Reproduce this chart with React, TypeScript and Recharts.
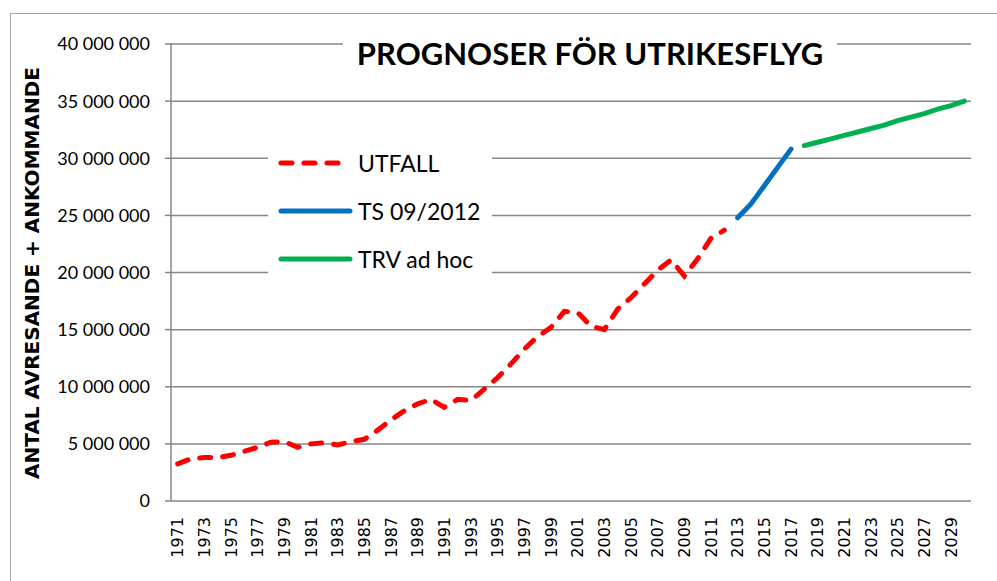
import { LineChart, Line, XAxis, YAxis, CartesianGrid, Legend } from 'recharts';

const years = [
  1971, 1972, 1973, 1974, 1975, 1976, 1977, 1978, 1979, 1980,
  1981, 1982, 1983, 1984, 1985, 1986, 1987, 1988, 1989, 1990,
  1991, 1992, 1993, 1994, 1995, 1996, 1997, 1998, 1999, 2000,
  2001, 2002, 2003, 2004, 2005, 2006, 2007, 2008, 2009, 2010,
  2011, 2012, 2013, 2014, 2015, 2016, 2017, 2018, 2019, 2020,
  2021, 2022, 2023, 2024, 2025, 2026, 2027, 2028, 2029, 2030,
];

// 1971-2012
const utfall = [
  3250000, 3700000, 3800000, 3800000, 4000000, 4350000, 4700000, 5150000, 5200000, 4700000,
  5000000, 5100000, 4900000, 5200000, 5400000, 6200000, 7100000, 7900000, 8500000, 8900000,
  8200000, 8900000, 8800000, 9800000, 10800000, 12000000, 13300000, 14400000, 15200000, 16600000,
  16500000, 15300000, 15000000, 16800000, 17800000, 19000000, 20200000, 21100000, 19700000, 21200000,
  23000000, 23700000,
];

// 2013-2017
const ts2012 = [24800000, 26000000, 27600000, 29200000, 30800000];

// 2018-2030
const trvAdHoc = [
  31100000, 31400000, 31700000, 32000000, 32300000, 32600000, 32900000,
  33300000, 33600000, 33900000, 34300000, 34600000, 35000000,
];

const seriesNames = ['UTFALL', 'TS 09/2012', 'TRV ad hoc'];

const yTicks = [0, 5000000, 10000000, 15000000, 20000000, 25000000, 30000000, 35000000, 40000000];
const xLabelYears = [
  1971, 1973, 1975, 1977, 1979, 1981, 1983, 1985, 1987, 1989,
  1991, 1993, 1995, 1997, 1999, 2001, 2003, 2005, 2007, 2009,
  2011, 2013, 2015, 2017, 2019, 2021, 2023, 2025, 2027, 2029,
];

const tsStart = 2013;
const trvStart = 2018;

const data = years.map((year, i) => ({
  year,
  utfall: i < utfall.length ? utfall[i] : null,
  ts: year >= tsStart && year - tsStart < ts2012.length ? ts2012[year - tsStart] : null,
  trv: year >= trvStart ? trvAdHoc[year - trvStart] : null,
}));

// category boundaries for the small tick marks under the axis
const boundaries = years.map((y) => y - 0.5).concat([years[years.length - 1] + 0.5]);
const xDomain = [boundaries[0], boundaries[boundaries.length - 1]];

const fmt = (v: number) => String(v).replace(/\B(?=(\d{3})+(?!\d))/g, ' ');

const gridColor = '#868686';

const YearTick = (props: any) => {
  const { x, y, payload } = props;
  return (
    <text
      x={x}
      y={y}
      transform={`rotate(-90, ${x}, ${y})`}
      textAnchor="end"
      dominantBaseline="central"
      fontFamily="DejaVu Sans"
      fontSize={16}
      style={{ fontFamily: '"DejaVu Sans", sans-serif', fontSize: '16px' }}
      fill="#000"
    >
      {payload.value}
    </text>
  );
};

const LegendBox = (props: any) => {
  const items = [...(props.payload || [])].sort(
    (a: any, b: any) => seriesNames.indexOf(a.value) - seriesNames.indexOf(b.value)
  );
  return (
    <div style={{ background: '#fff', width: 224, height: 146, position: 'relative' }}>
      {items.map((item: any, i: number) => (
        <div
          key={item.value}
          style={{ position: 'absolute', left: 8, top: 14 + i * 48, height: 24, display: 'flex', alignItems: 'center' }}
        >
          <svg width={78} height={10}>
            <line
              x1={5}
              y1={5}
              x2={item.payload.strokeDasharray ? 66 : 74}
              y2={5}
              stroke={item.color}
              strokeWidth={5}
              strokeLinecap="round"
              strokeDasharray={item.payload.strokeDasharray}
            />
          </svg>
          <span style={{ marginLeft: 4, fontSize: 23, fontFamily: 'Lato', color: '#000', lineHeight: '24px' }}>
            {item.value}
          </span>
        </div>
      ))}
    </div>
  );
};

export default function App() {
  return (
    <div
      style={{
        position: 'fixed',
        left: 0,
        top: 0,
        width: 997,
        height: 581,
        overflow: 'hidden',
        background: '#fff',
        fontFamily: 'Lato',
      }}
    >
      <div
        style={{
          position: 'absolute',
          left: 10,
          top: 13,
          width: 1020,
          height: 620,
          border: '1.5px solid #a6a6a6',
        }}
      />
      <div style={{ position: 'absolute', left: 0, top: 0 }}>
        <LineChart width={997} height={581} data={data} margin={{ top: 44, right: 26, bottom: 20, left: 0 }}>
          <CartesianGrid vertical={false} stroke={gridColor} strokeWidth={1.5} />
          <XAxis
            xAxisId={0}
            type="number"
            dataKey="year"
            domain={xDomain}
            allowDataOverflow
            ticks={boundaries}
            interval={0}
            tick={false}
            tickSize={7}
            height={0}
            stroke={gridColor}
            strokeWidth={1.5}
          />
          <XAxis
            xAxisId="lab"
            type="number"
            dataKey="year"
            domain={xDomain}
            allowDataOverflow
            ticks={xLabelYears}
            interval={0}
            tick={<YearTick />}
            tickLine={false}
            axisLine={false}
            tickSize={0}
            tickMargin={16}
            height={60}
          />
          <YAxis
            width={171}
            domain={[0, 40000000]}
            ticks={yTicks}
            interval={0}
            tickFormatter={fmt}
            tick={{ fill: '#000', fontSize: 18, fontFamily: 'Lato' }}
            tickSize={6}
            tickMargin={15}
            stroke={gridColor}
            strokeWidth={1.5}
          />
          <Legend
            layout="vertical"
            align="center"
            verticalAlign="middle"
            content={<LegendBox />}
            wrapperStyle={{ left: 268, top: 137, width: 224, height: 146 }}
          />
          <Line
            xAxisId="lab"
            type="linear"
            dataKey="utfall"
            name="UTFALL"
            stroke="#ff0000"
            strokeWidth={5}
            strokeDasharray="11 12"
            strokeLinecap="round"
            dot={false}
            activeDot={false}
            isAnimationActive={false}
          />
          <Line
            xAxisId="lab"
            type="linear"
            dataKey="ts"
            name="TS 09/2012"
            stroke="#0070c0"
            strokeWidth={5}
            strokeLinecap="round"
            dot={false}
            activeDot={false}
            isAnimationActive={false}
          />
          <Line
            xAxisId="lab"
            type="linear"
            dataKey="trv"
            name="TRV ad hoc"
            stroke="#00b050"
            strokeWidth={5}
            strokeLinecap="round"
            dot={false}
            activeDot={false}
            isAnimationActive={false}
          />
        </LineChart>
      </div>
      <div
        style={{
          position: 'absolute',
          left: 343,
          top: 28,
          width: 494,
          height: 50,
          background: '#fff',
          textAlign: 'center',
          fontFamily: 'Lato',
          fontWeight: 'bold',
          fontSize: 31,
          lineHeight: '50px',
          color: '#000',
        }}
      >
        PROGNOSER FÖR UTRIKESFLYG
      </div>
      <div
        style={{
          position: 'absolute',
          left: 32,
          top: 273,
          transform: 'translate(-50%, -50%) rotate(-90deg)',
          whiteSpace: 'nowrap',
          fontFamily: 'DejaVu Sans',
          fontWeight: 'bold',
          fontSize: 20,
          color: '#000',
        }}
      >
        ANTAL AVRESANDE + ANKOMMANDE
      </div>
    </div>
  );
}
